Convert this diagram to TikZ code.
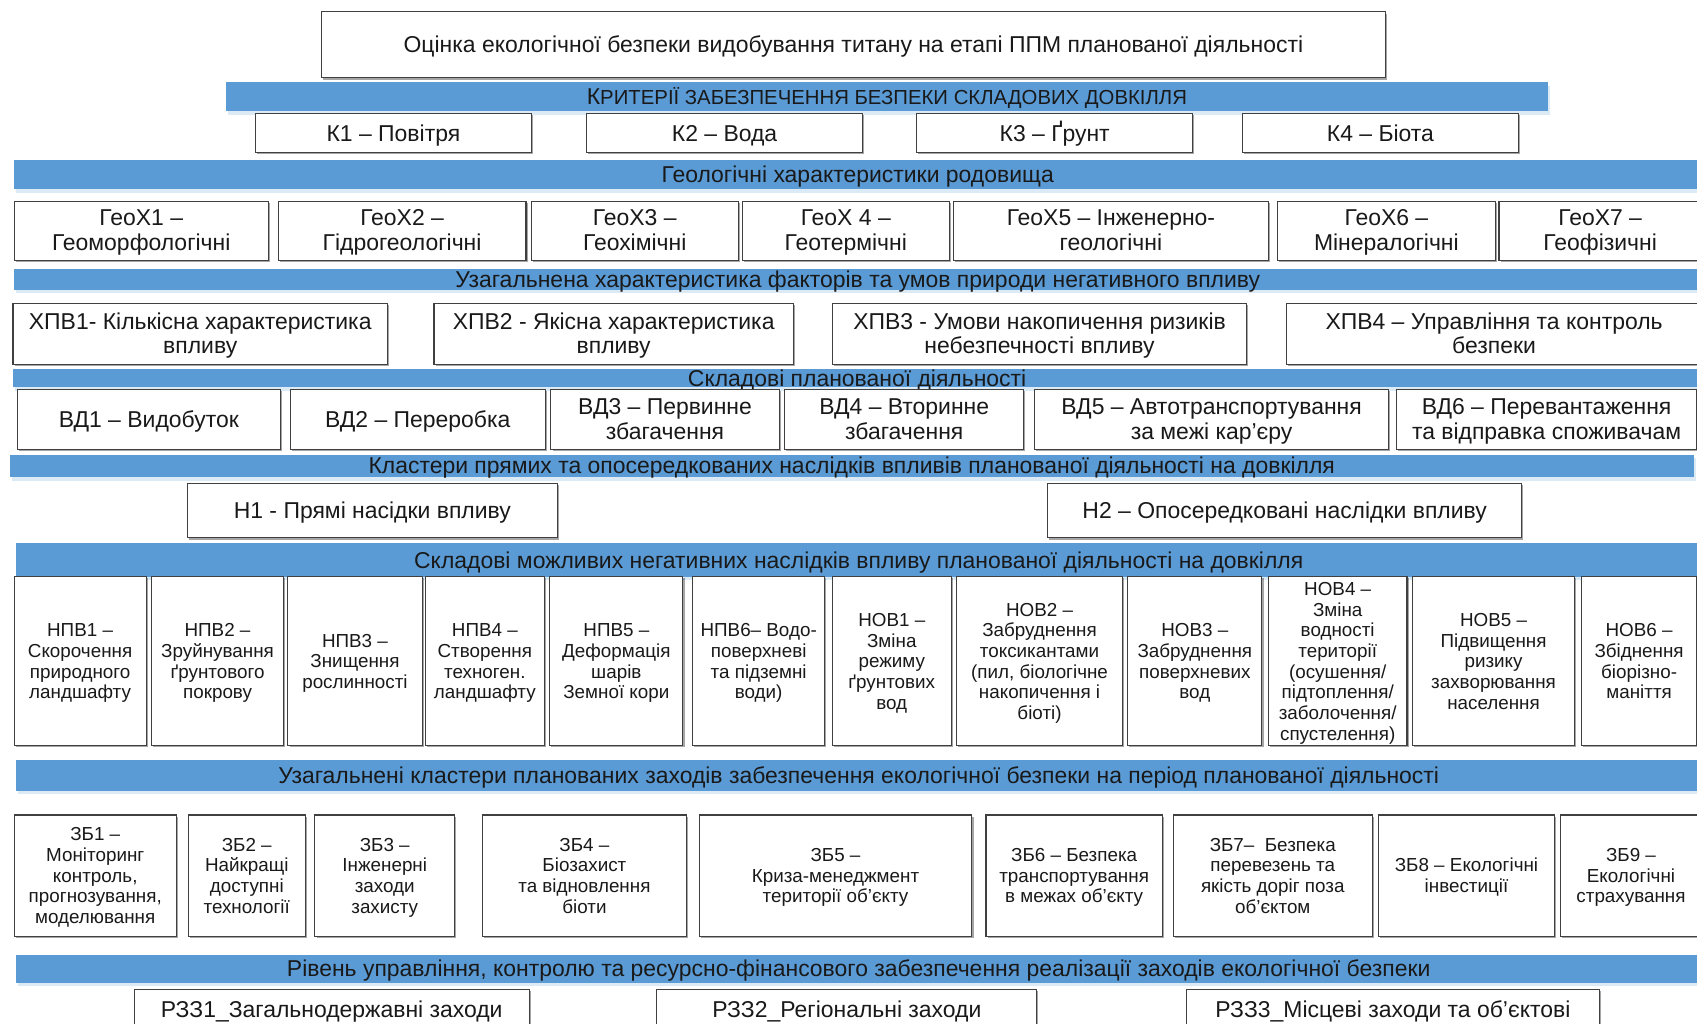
\documentclass[tikz,border=0pt]{standalone}
\usepackage{fontspec}
\setmainfont{Liberation Sans}
\usetikzlibrary{shadows}
\definecolor{barblue}{RGB}{91,155,213}
\def\cellbox(#1)(#2,#3)(#4,#5)[#6]#7{\node[#6, minimum width={#4pt-#2pt}, minimum height={#5pt-#3pt}] (#1) at ({(#2+#4)/2},{(#3+#5)/2}) {};
  \node[#6text] (#1-t) at ([yshift=-2.8pt]#1.center) {#7};}
\tikzset{
  cell/.style={draw=black!75, line width=1pt, fill=white, inner sep=0pt,
    drop shadow={shadow xshift=1.5pt, shadow yshift=-1.5pt, opacity=0.35, fill=black}},
  celltext/.style={text=black!90, align=center, inner sep=0pt, font=\fontsize{21.2}{23}\selectfont,
    execute at begin node=\strut, execute at end node=\strut},
  smallcell/.style={cell},
  smallcelltext/.style={celltext, font=\fontsize{17.4}{19.1}\selectfont},
  band/.style={fill=barblue, inner sep=0pt,
    drop shadow={shadow xshift=2pt, shadow yshift=-3pt, opacity=0.6, fill=barblue!35}},
  bandtext/.style={celltext}
}

\begin{document}
\begin{tikzpicture}[x=1pt, y=-1pt]
		\useasboundingbox[fill=white] (0,0) rectangle (1568,946);
		
		%%%%% BANDS %%%%%
		\cellbox(critband)(209,76)(1430,103)[band]{К{\fontsize{18.8}{18.8}\selectfont РИТЕРІЇ ЗАБЕЗПЕЧЕННЯ БЕЗПЕКИ СКЛАДОВИХ ДОВКІЛЛЯ}}
		\cellbox(geoband)(13,148)(1572,175)[band]{Геологічні характеристики родовища}
		\cellbox(xpvband)(13,249)(1572,268)[band]{Узагальнена характеристика факторів та умов природи негативного впливу}
		\cellbox(vdband)(12,341)(1572,358)[band]{Складові планованої діяльності}
		\cellbox(clband)(9,420)(1565,441)[band]{Кластери прямих та опосередкованих наслідків впливів планованої діяльності на довкілля}
		\cellbox(npvband)(15,502)(1572,533)[band]{Складові можливих негативних наслідків впливу планованої діяльності на довкілля}
		\cellbox(zbband)(15,702)(1572,731)[band]{Узагальнені кластери планованих заходів забезпечення екологічної безпеки на період планованої діяльності}
		\cellbox(rzband)(15,882)(1572,908)[band]{Рівень управління, контролю та ресурсно-фінансового забезпечення реалізації заходів екологічної безпеки}
		
		%%%%% TITLE AND CRITERIA %%%%%
		\cellbox(title)(297,11)(1280,72)[cell]{Оцінка екологічної безпеки видобування титану на етапі ППМ планованої діяльності}
		\cellbox(k1)(236,105)(491,141)[cell]{К1 – Повітря}
		\cellbox(k2)(542,105)(797,141)[cell]{К2 – Вода}
		\cellbox(k3)(847,105)(1102,141)[cell]{К3 – \smash{Ґ}рунт}
		\cellbox(k4)(1148,105)(1403,141)[cell]{К4 – Біота}
		
		%%%%% GEOLOGY %%%%%
		\cellbox(geo1)(13,186)(248,241)[cell]{ГеоХ1 –\\Геоморфологічні}
		\cellbox(geo2)(257,186)(486,241)[cell]{ГеоХ2 –\\Гідрогеологічні}
		\cellbox(geo3)(491,186)(682,241)[cell]{ГеоХ3 –\\Геохімічні}
		\cellbox(geo4)(686,186)(877,241)[cell]{ГеоХ 4 –\\Геотермічні}
		\cellbox(geo5)(881,186)(1172,241)[cell]{ГеоХ5 – Інженерно-\\геологічні}
		\cellbox(geo6)(1180,186)(1382,241)[cell]{ГеоХ6 –\\Мінералогічні}
		\cellbox(geo7)(1385,186)(1572,241)[cell]{ГеоХ7 –\\Геофізичні}
		
		%%%%% IMPACT FACTORS %%%%%
		\cellbox(xpv1)(12,280)(358,337)[cell]{ХПВ1- Кількісна характеристика\\впливу}
		\cellbox(xpv2)(401,280)(733,337)[cell]{ХПВ2 - Якісна характеристика\\впливу}
		\cellbox(xpv3)(769,280)(1152,337)[cell]{ХПВ3 - Умови накопичення ризиків\\небезпечності впливу}
		\cellbox(xpv4)(1189,280)(1572,337)[cell]{ХПВ4 – Управління та контроль\\безпеки}
		
		%%%%% ACTIVITY %%%%%
		\cellbox(vd1)(16,360)(259,415)[cell]{ВД1 – Видобуток}
		\cellbox(vd2)(268,360)(504,415)[cell]{ВД2 – Переробка}
		\cellbox(vd3)(509,360)(720,415)[cell]{ВД3 – Первинне\\збагачення}
		\cellbox(vd4)(725,360)(946,415)[cell]{ВД4 – Вторинне\\збагачення}
		\cellbox(vd5)(956,360)(1283,415)[cell]{ВД5 – Автотранспортування\\за межі кар’єру}
		\cellbox(vd6)(1290,360)(1568,415)[cell]{ВД6 – Перевантаження\\та відправка споживачам}
		
		%%%%% CONSEQUENCES %%%%%
		\cellbox(h1)(173,447)(515,497)[cell]{Н1 - Прямі насідки впливу}
		\cellbox(h2)(968,447)(1406,497)[cell]{Н2 – Опосередковані наслідки впливу}
		
		\cellbox(npv1)(13,533)(135,689)[smallcell]{НПВ1 –\\Скорочення\\природного\\ландшафту}
		\cellbox(npv2)(140,533)(262,689)[smallcell]{НПВ2 –\\Зруйнування\\ґрунтового\\покрову}
		\cellbox(npv3)(266,533)(390,689)[smallcell]{НПВ3 –\\Знищення\\рослинності}
		\cellbox(npv4)(393,533)(503,689)[smallcell]{НПВ4 –\\Створення\\техноген.\\ландшафту}
		\cellbox(npv5)(508,533)(631,689)[smallcell]{НПВ5 –\\Деформація\\шарів\\Земної кори}
		\cellbox(npv6)(640,533)(762,689)[smallcell]{НПВ6– Водо-\\поверхневі\\та підземні\\води)}
		\cellbox(nov1)(769,533)(879,689)[smallcell]{НОВ1 –\\Зміна\\режиму\\ґрунтових\\вод}
		\cellbox(nov2)(884,533)(1037,689)[smallcell]{НОВ2 –\\Забруднення\\токсикантами\\(пил, біологічне\\накопичення і\\біоті)}
		\cellbox(nov3)(1042,533)(1166,689)[smallcell]{НОВ3 –\\Забруднення\\поверхневих\\вод}
		\cellbox(nov4)(1172,533)(1300,689)[smallcell]{НОВ4 –\\Зміна\\водності\\території\\(осушення/\\підтоплення/\\заболочення/\\спустелення)}
		\cellbox(nov5)(1305,533)(1455,689)[smallcell]{НОВ5 –\\Підвищення\\ризику\\захворювання\\населення}
		\cellbox(nov6)(1461,533)(1568,689)[smallcell]{НОВ6 –\\Збіднення\\біорізно-\\маніття}
		
		%%%%% MEASURES %%%%%
		\cellbox(zb1)(13,753)(163,865)[smallcell]{ЗБ1 –\\Моніторинг\\контроль,\\прогнозування,\\моделювання}
		\cellbox(zb2)(174,753)(282,865)[smallcell]{ЗБ2 –\\Найкращі\\доступні\\технології}
		\cellbox(zb3)(291,753)(420,865)[smallcell]{ЗБ3 –\\Інженерні\\заходи\\захисту}
		\cellbox(zb4)(446,753)(634,865)[smallcell]{ЗБ4 –\\Біозахист\\та відновлення\\біоти}
		\cellbox(zb5)(646,753)(898,865)[smallcell]{ЗБ5 –\\Криза-менеджмент\\території об’єкту}
		\cellbox(zb6)(911,753)(1074,865)[smallcell]{ЗБ6 – Безпека\\транспортування\\в межах об’єкту}
		\cellbox(zb7)(1084,753)(1268,865)[smallcell]{ЗБ7–~ Безпека\\перевезень та\\якість доріг поза\\об’єктом}
		\cellbox(zb8)(1274,753)(1436,865)[smallcell]{ЗБ8 – Екологічні\\інвестиції}
		\cellbox(zb9)(1442,753)(1572,865)[smallcell]{ЗБ9 –\\Екологічні\\страхування}
		
		%%%%% LEVELS %%%%%
		\cellbox(rz1)(124,914)(489,952)[cell]{РЗЗ1\_Загальнодержавні заходи}
		\cellbox(rz2)(607,914)(958,952)[cell]{РЗЗ2\_Регіональні заходи}
		\cellbox(rz3)(1096,914)(1478,952)[cell]{РЗЗ3\_Місцеві заходи та об’єктові}
		
	\end{tikzpicture}
\end{document}
